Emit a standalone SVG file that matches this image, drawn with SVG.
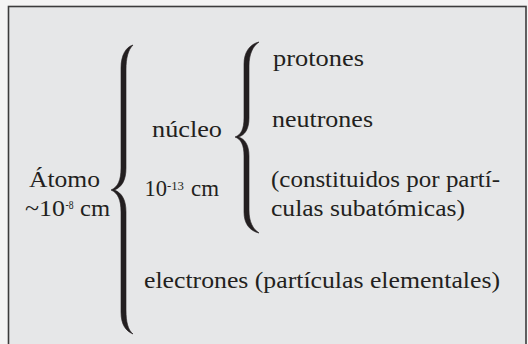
<svg xmlns="http://www.w3.org/2000/svg" width="528" height="344" viewBox="0 0 528 344">
<style>
.t{font-family:"Liberation Serif","Times New Roman",serif;font-size:23.5px;fill:#231f20}
.s{font-family:"Liberation Serif","Times New Roman",serif;font-size:12px;fill:#231f20}
.br{fill:#231f20;stroke:#231f20;stroke-width:0.6}
</style>
<rect x="0" y="0" width="528" height="344" fill="#f4f4f4"/>
<rect x="8.5" y="6.5" width="517.5" height="345" fill="#e6e7e8" stroke="#3c3c3c" stroke-width="1.6"/>
<g id="atomo">
<text class="t" x="29" y="187" textLength="71" lengthAdjust="spacingAndGlyphs">Átomo</text>
<text class="t" x="25" y="216" textLength="40" lengthAdjust="spacingAndGlyphs">~10</text>
<text class="s" x="65.5" y="208.5" textLength="8" lengthAdjust="spacingAndGlyphs">-8</text>
<text class="t" x="80" y="216" textLength="30" lengthAdjust="spacingAndGlyphs">cm</text>
</g>
<g id="nucleo">
<text class="t" x="152" y="137" textLength="70" lengthAdjust="spacingAndGlyphs">núcleo</text>
<text class="t" x="144.5" y="196" textLength="22.5" lengthAdjust="spacingAndGlyphs">10</text>
<text class="s" x="167" y="189.5" textLength="17" lengthAdjust="spacingAndGlyphs">-13</text>
<text class="t" x="191" y="196" textLength="28" lengthAdjust="spacingAndGlyphs">cm</text>
</g>
<g id="protones">
<text class="t" x="273" y="66" textLength="91" lengthAdjust="spacingAndGlyphs">protones</text>
</g>
<g id="neutrones">
<text class="t" x="272" y="127" textLength="101" lengthAdjust="spacingAndGlyphs">neutrones</text>
</g>
<g id="constituidos">
<text class="t" x="271" y="187" textLength="229" lengthAdjust="spacingAndGlyphs">(constituidos por partí-</text>
<text class="t" x="271" y="216" textLength="194" lengthAdjust="spacingAndGlyphs">culas subatómicas)</text>
</g>
<g id="electrones">
<text class="t" x="144" y="288" textLength="356" lengthAdjust="spacingAndGlyphs">electrones (partículas elementales)</text>
</g>
<g id="connectors">
<path class="br" d="M133,45 C126,47 121,55 121,68 L121,168 C121,180 118,187 111,190 C118,193 121,200 121,212 L121,312 C121,325 126,331 133,334 C128,330 126,322 126,310 L126,212 C126,200 122,193 114.5,190 C122,187 126,180 126,168 L126,70 C126,58 128,50 133,45 Z"/>
<path class="br" d="M259,42 C250,44 244,52 244,64 L244,118 C244,129 241,135 235,137 C241,139 244,145 244,156 L244,212 C244,224 250,231 259,233 C253,229 249,222 249,210 L249,156 C249,145 245,139 238.5,137 C245,135 249,129 249,118 L249,66 C249,54 253,46 259,42 Z"/>
</g>
</svg>
